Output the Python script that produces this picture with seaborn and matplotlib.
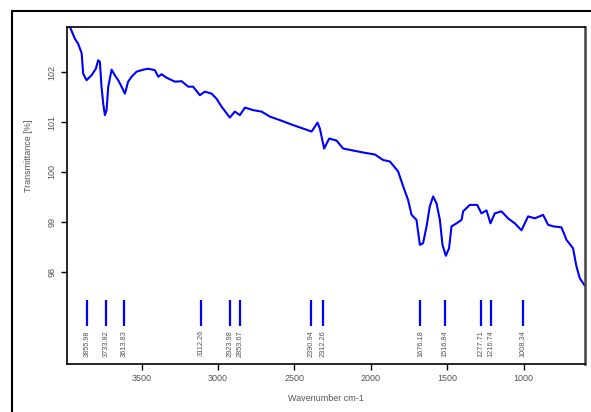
import numpy as np
import pandas as pd
import matplotlib
matplotlib.use("Agg")
import matplotlib.pyplot as plt
from matplotlib.lines import Line2D
import seaborn as sns

# IR spectrum (wavenumber cm-1, transmittance %)
wavenumber = [3988, 3969, 3936, 3915, 3892, 3882, 3860, 3827, 3799, 3784, 3773,
              3762, 3751, 3740, 3729, 3718, 3696, 3675, 3653, 3631, 3609, 3588,
              3565, 3533, 3490, 3457, 3413, 3391, 3369, 3337, 3282, 3238, 3195,
              3163, 3119, 3086, 3042, 3010, 2977, 2923, 2890, 2857, 2824, 2770,
              2715, 2661, 2596, 2509, 2443, 2388, 2349, 2334, 2306, 2273, 2225,
              2182, 2116, 2051, 1974, 1920, 1876, 1822, 1789, 1757, 1734, 1702,
              1680, 1659, 1636, 1615, 1593, 1571, 1549, 1532, 1510, 1489, 1473,
              1440, 1407, 1397, 1353, 1305, 1277, 1244, 1218, 1190, 1146, 1103,
              1059, 1015, 972, 928, 874, 841, 808, 754, 721, 678, 656, 634, 612, 601]
transmittance = [102.90, 102.91, 102.67, 102.57, 102.38, 101.97, 101.84, 101.94,
                 102.07, 102.24, 102.21, 101.71, 101.37, 101.14, 101.24, 101.71,
                 102.05, 101.94, 101.84, 101.71, 101.57, 101.81, 101.91, 102.01,
                 102.05, 102.07, 102.04, 101.91, 101.96, 101.89, 101.81, 101.82,
                 101.71, 101.71, 101.54, 101.61, 101.57, 101.47, 101.31, 101.09,
                 101.21, 101.14, 101.29, 101.24, 101.21, 101.11, 101.04, 100.94,
                 100.87, 100.81, 100.99, 100.87, 100.47, 100.67, 100.63, 100.47,
                 100.43, 100.39, 100.35, 100.24, 100.21, 100.01, 99.71, 99.44,
                 99.14, 99.04, 98.54, 98.57, 98.91, 99.31, 99.51, 99.37, 99.04,
                 98.54, 98.32, 98.47, 98.91, 98.97, 99.04, 99.21, 99.34, 99.34,
                 99.17, 99.23, 98.97, 99.17, 99.21, 99.07, 98.97, 98.83, 99.11,
                 99.07, 99.14, 98.94, 98.91, 98.89, 98.64, 98.47, 98.11, 97.87,
                 97.77, 97.72]

peak_positions = [3855.98, 3733.82, 3613.83, 3112.26, 2923.98, 2853.67,
                  2390.94, 2312.26, 1676.18, 1516.84, 1277.71, 1216.74, 1008.34]
peak_labels = ["3855.98", "3733.82", "3613.83", "3112.26", "2923.98", "2853.67",
               "2390.94", "2312.26", "1676.18", "1516.84", "1277.71", "1216.74",
               "1008.34"]

sns.set_style("white")
plt.rcParams["font.family"] = ["Liberation Sans", "DejaVu Sans"]

df = pd.DataFrame({"wn": wavenumber, "T": transmittance})

fig = plt.figure(figsize=(5.91, 4.12), dpi=100)
ax = fig.add_axes([0.1128, 0.1165, 0.877, 0.8172])

sns.lineplot(data=df, x="wn", y="T", ax=ax, color="#0000ff", linewidth=1.5,
             estimator=None, sort=False)

# peak markers
ax.vlines(peak_positions, 96.92, 97.44, color="#0000ff", linewidth=1.6)
for pos, lab in zip(peak_positions, peak_labels):
    ax.text(pos, 96.83, lab, rotation=90, ha="center", va="top",
            fontsize=5.3, color="#555555")

ax.set_xlim(3990, 600)
ax.set_ylim(96.15, 102.9)
ax.set_xticks([3500, 3000, 2500, 2000, 1500, 1000])
ax.set_yticks([98, 99, 100, 101, 102])
ax.tick_params(axis="both", direction="out", length=4, width=1, color="black",
               labelsize=6.5, labelcolor="#555555", left=True, bottom=True)
for lab in ax.get_yticklabels():
    lab.set_rotation(90)
    lab.set_va("center")

ax.set_xlabel("Wavenumber cm-1", fontsize=6.5, color="#555555")
ax.set_ylabel("Transmittance [%]", fontsize=6.5, color="#555555")
ax.yaxis.set_label_coords(-0.065, 0.62)
ax.xaxis.set_label_coords(0.5, -0.09)

for side in ["left", "bottom", "top"]:
    ax.spines[side].set_color("black")
    ax.spines[side].set_linewidth(1.2)
ax.spines["right"].set_color("#444444")
ax.spines["right"].set_linewidth(1.8)

# outer frame
fx = 12 / 591
fy = 1 - 11 / 412
fig.add_artist(Line2D([fx, fx], [0, fy], transform=fig.transFigure,
                      color="black", linewidth=1.5))
fig.add_artist(Line2D([fx, 1], [fy, fy], transform=fig.transFigure,
                      color="black", linewidth=1.5))

fig.savefig("out.png", dpi=100)
